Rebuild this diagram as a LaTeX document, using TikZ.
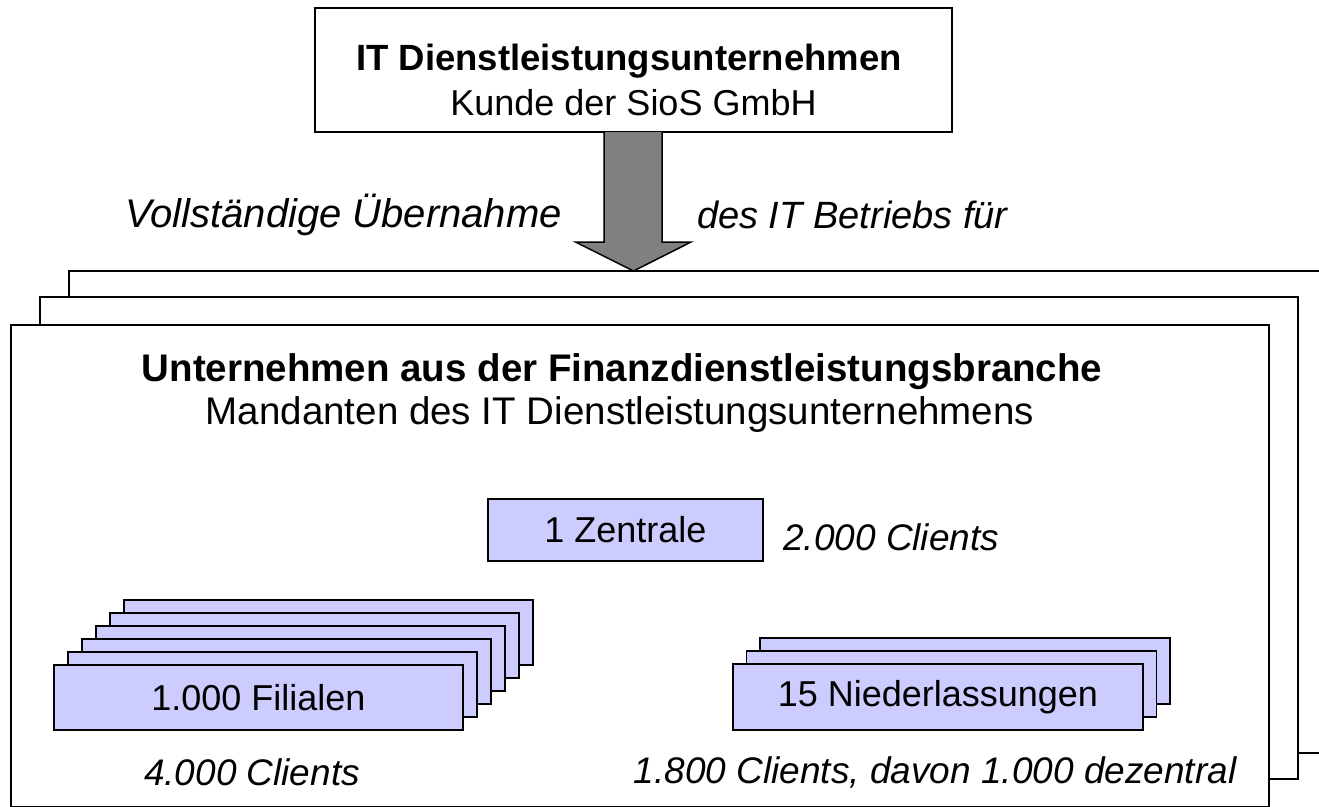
\documentclass[tikz,border=0pt]{standalone}
\usepackage{fontspec}
\setmainfont{Liberation Sans}
\usetikzlibrary{calc}
\definecolor{lav}{RGB}{204,204,255}
\definecolor{arrgray}{RGB}{128,128,128}
\tikzset{
  frame/.style={draw=black, line width=1.8pt, fill=white, inner sep=0pt, outer sep=0pt, minimum width=1258pt, minimum height=482pt},
  topbox/.style={draw=black, line width=1.8pt, fill=white, inner sep=0pt, outer sep=0pt, minimum width=637pt, minimum height=124pt},
  lavbox/.style={draw=black, line width=1.5pt, fill=lav, inner sep=0pt, outer sep=0pt},
  txt/.style={inner sep=0pt, font=\fontsize{36}{44}\selectfont},
  btxt/.style={inner sep=0pt, font=\fontsize{36.5}{44}\selectfont\bfseries},
  itxt/.style={inner sep=0pt, font=\fontsize{37}{44}\selectfont\itshape},
  bigtxt/.style={inner sep=0pt, font=\fontsize{38.5}{44}\selectfont},
  bigbtxt/.style={inner sep=0pt, font=\fontsize{38.5}{44}\selectfont\bfseries},
}
\begin{document}
\begin{tikzpicture}[x=1pt,y=-1pt]
\useasboundingbox (0,0) rectangle (1319,806);
\clip (0,0) rectangle (1319,806);
% stacked frames
\node[frame] (back) at (698,512) {};
\node[frame] (mid) at (669,538) {};
\node[frame] (front) at (640,566) {};
% top box
\node[topbox] (top) at (633.5,70) {};
\node[btxt, anchor=base] (topA) at (629,70) {IT Dienstleistungsunternehmen};
\node[txt, anchor=base] (topB) at (633.5,115) {Kunde der SioS GmbH};
% block arrow
\coordinate (tip) at (top.south |- back.north);
\draw[line width=1.5pt, fill=arrgray, line join=miter]
  ([xshift=-29.5pt]top.south) -- ([xshift=-29.5pt,yshift=-110pt]top.south)
  -- ([xshift=-58pt,yshift=-110pt]top.south) -- (tip)
  -- ([xshift=57.5pt,yshift=-110pt]top.south) -- ([xshift=28.5pt,yshift=-110pt]top.south)
  -- ([xshift=28.5pt]top.south);
\node[itxt, anchor=east, font=\fontsize{40}{44}\selectfont\itshape] (lt) at (562,215) {Vollständige Übernahme};
\node[itxt, anchor=west, font=\fontsize{38}{44}\selectfont\itshape] (rt) at (697,215) {des IT Betriebs für};
% frame texts
\node[bigbtxt, anchor=base] (fA) at (622,381) {Unternehmen aus der Finanzdienstleistungsbranche};
\node[bigtxt, anchor=base] (fB) at (620,424) {Mandanten des IT Dienstleistungsunternehmens};
% Zentrale
\node[lavbox, minimum width=275pt, minimum height=62pt] (zen) at (625.5,530) {};
\node[txt] (zenT) at (zen.center) {1 Zentrale};
\node[itxt, anchor=west] (zenC) at (783,537) {2.000 Clients};
% Filialen stack
\foreach \k in {5,4,3,2,1} {
  \node[lavbox, minimum width=409pt, minimum height=65pt] (fil\k) at ({258.5+14*\k},{697.5-13*\k}) {};
}
\node[lavbox, minimum width=409pt, minimum height=65pt] (fil0) at (258.5,697.5) {};
\node[txt] (filT) at (fil0.center) {1.000 Filialen};
\node[itxt] (filC) at (252,772) {4.000 Clients};
% Niederlassungen stack
\foreach \k in {2,1} {
  \node[lavbox, minimum width=410pt, minimum height=66pt] (nie\k) at ({938+13.5*\k},{697-13*\k}) {};
}
\node[lavbox, minimum width=410pt, minimum height=66pt] (nie0) at (938,697) {};
\node[txt] (nieT) at (nie0.center) {15 Niederlassungen};
\node[itxt] (nieC) at (935,772) {1.800 Clients, davon 1.000 dezentral};
\end{tikzpicture}
\end{document}
